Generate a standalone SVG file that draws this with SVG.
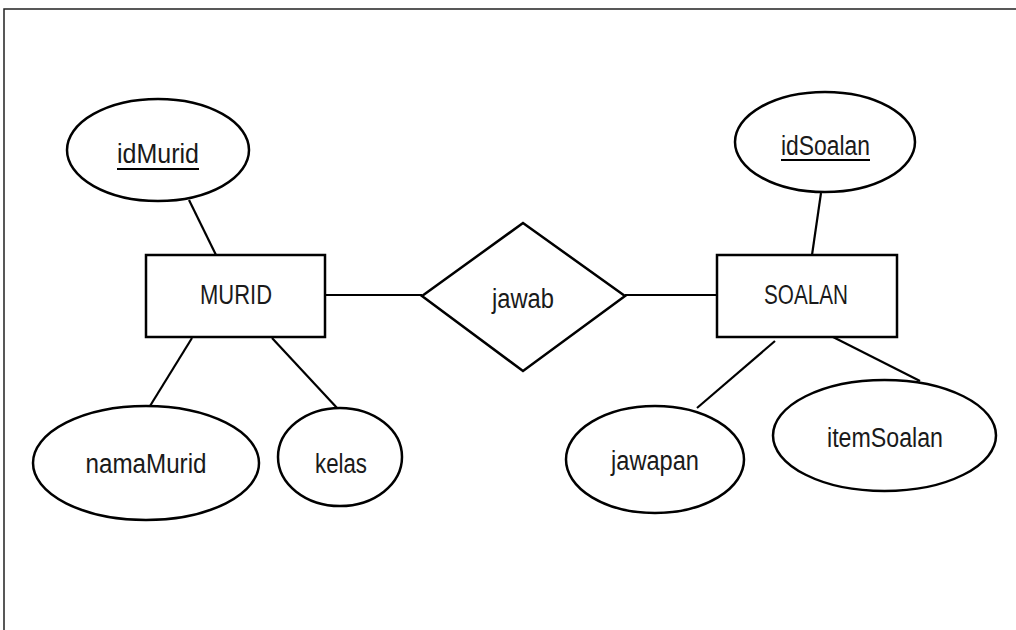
<svg xmlns="http://www.w3.org/2000/svg" width="1016" height="630" viewBox="0 0 1016 630">
<style>
.shape{fill:#fff;stroke:#000;stroke-width:2.5}
.conn line{stroke:#000;stroke-width:2.2}
text{font-family:"Liberation Sans",Arial,sans-serif;font-size:27px;fill:#1a1a1a;text-anchor:middle}
.ul{stroke:#000;stroke-width:2}
</style>
<rect width="1016" height="630" fill="#fff"/>
<rect x="4" y="9" width="1030" height="640" fill="none" stroke="#222" stroke-width="1.5"/>
<g class="conn" id="connectors">
<line x1="189" y1="200" x2="216" y2="255"/>
<line x1="192" y1="338" x2="150" y2="406"/>
<line x1="272" y1="338" x2="338" y2="409"/>
<line x1="325" y1="295" x2="422" y2="295"/>
<line x1="625" y1="295" x2="717" y2="295"/>
<line x1="821" y1="193" x2="812" y2="255"/>
<line x1="775" y1="341" x2="697" y2="408"/>
<line x1="833" y1="337" x2="920" y2="381"/>
</g>
<g id="idMurid">
<ellipse class="shape" cx="158" cy="150" rx="91" ry="51"/>
<text x="158" y="163" textLength="82" lengthAdjust="spacingAndGlyphs">idMurid</text>
<line class="ul" x1="117" y1="169" x2="199" y2="169"/>
</g>
<g id="MURID">
<rect class="shape" x="146" y="255" width="179" height="82"/>
<text x="236" y="304" textLength="72" lengthAdjust="spacingAndGlyphs">MURID</text>
</g>
<g id="namaMurid">
<ellipse class="shape" cx="146" cy="463" rx="113" ry="57"/>
<text x="146" y="473" textLength="121" lengthAdjust="spacingAndGlyphs">namaMurid</text>
</g>
<g id="kelas">
<ellipse class="shape" cx="340" cy="457" rx="62" ry="49"/>
<text x="341" y="473" textLength="52" lengthAdjust="spacingAndGlyphs">kelas</text>
</g>
<g id="jawab">
<polygon class="shape" points="422,296 523,223 625,296 523,371"/>
<text x="523" y="308" textLength="62" lengthAdjust="spacingAndGlyphs">jawab</text>
</g>
<g id="SOALAN">
<rect class="shape" x="717" y="255" width="180" height="82"/>
<text x="806" y="304" textLength="84" lengthAdjust="spacingAndGlyphs">SOALAN</text>
</g>
<g id="idSoalan">
<ellipse class="shape" cx="825" cy="142" rx="90" ry="50"/>
<text x="825.5" y="155" textLength="89" lengthAdjust="spacingAndGlyphs">idSoalan</text>
<line class="ul" x1="781" y1="160" x2="870" y2="160"/>
</g>
<g id="jawapan">
<ellipse class="shape" cx="655" cy="459.5" rx="89" ry="53.5"/>
<text x="655" y="470" textLength="88" lengthAdjust="spacingAndGlyphs">jawapan</text>
</g>
<g id="itemSoalan">
<ellipse class="shape" cx="884.5" cy="435.5" rx="111.5" ry="55.5"/>
<text x="885" y="447" textLength="116" lengthAdjust="spacingAndGlyphs">itemSoalan</text>
</g>
</svg>
